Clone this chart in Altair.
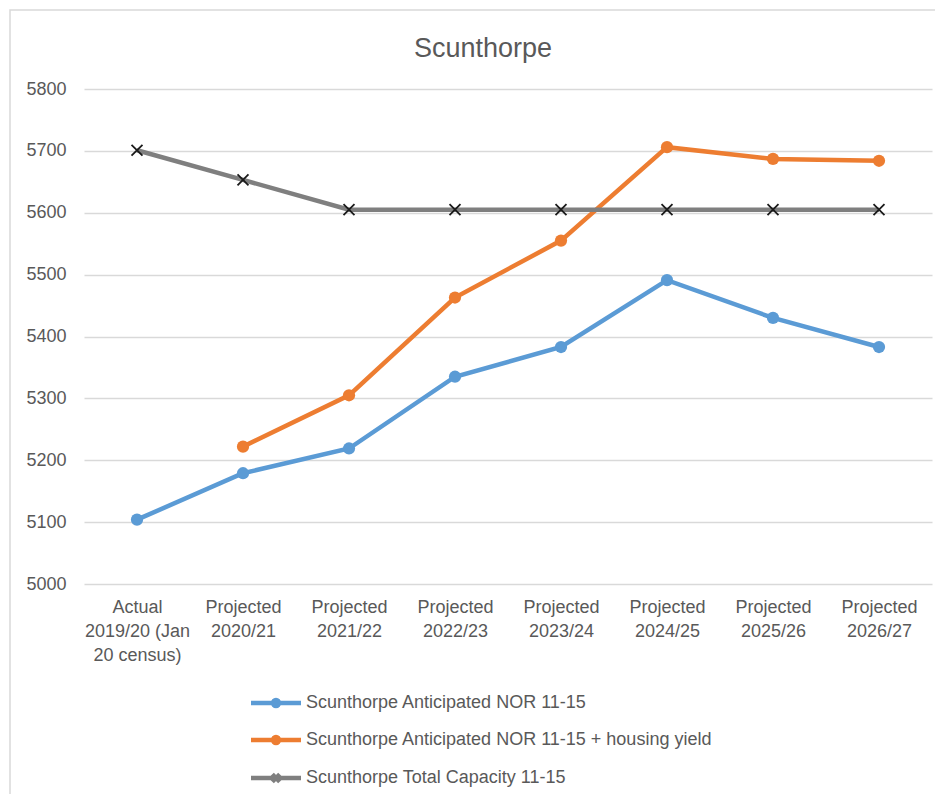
import altair as alt
import pandas as pd

categories = [
    "Actual|2019/20 (Jan|20 census)",
    "Projected|2020/21",
    "Projected|2021/22",
    "Projected|2022/23",
    "Projected|2023/24",
    "Projected|2024/25",
    "Projected|2025/26",
    "Projected|2026/27",
]
series_names = [
    "Scunthorpe Anticipated NOR 11-15",
    "Scunthorpe Anticipated NOR 11-15 + housing yield",
    "Scunthorpe Total Capacity 11-15",
]
nor = [5104, 5179, 5219, 5335, 5383, 5491, 5430, 5383]
nor_housing = [None, 5222, 5305, 5463, 5555, 5706, 5687, 5684]
capacity = [5701, 5653, 5605, 5605, 5605, 5605, 5605, 5605]
colors = ["#5B9BD5", "#ED7D31", "#7F7F7F"]

rows = []
for name, vals in zip(series_names, [nor, nor_housing, capacity]):
    for c, v in zip(categories, vals):
        rows.append({"category": c, "series": name, "value": v})
df = pd.DataFrame(rows)

FONT = "Liberation Sans"
TXT = "#595959"

circle_line = "M-5,0L5,0M0.6,0A0.6,0.6,0,1,1,-0.6,0A0.6,0.6,0,1,1,0.6,0Z"
cross_line = "M-5,0L5,0M-0.75,-0.75L0.75,0.75M-0.75,0.75L0.75,-0.75"
x_shape = "M-1,-1L1,1M-1,1L1,-1"

x_enc = alt.X(
    "category:N",
    sort=categories,
    scale=alt.Scale(type="point", padding=0.5),
    axis=alt.Axis(
        title=None,
        labelExpr="split(datum.label, '|')",
        labelAngle=0,
        labelFontSize=18,
        labelFont=FONT,
        labelColor=TXT,
        labelLineHeight=24,
        labelPadding=14,
        labelBaseline="top",
        domain=False,
        ticks=False,
        grid=False,
    ),
)
y_enc = alt.Y(
    "value:Q",
    scale=alt.Scale(domain=[5000, 5800], nice=False, zero=False),
    axis=alt.Axis(
        title=None,
        values=[5000, 5100, 5200, 5300, 5400, 5500, 5600, 5700, 5800],
        format="d",
        labelFontSize=18,
        labelFont=FONT,
        labelColor=TXT,
        labelPadding=18,
        domain=False,
        ticks=False,
        gridColor="#D9D9D9",
        gridWidth=1.5,
    ),
)

color_scale = alt.Scale(domain=series_names, range=colors)

legend = alt.Legend(
    title=None,
    orient="none",
    legendX=183,
    legendY=605,
    direction="vertical",
    symbolType=alt.ExprRef(
        expr="datum.value === '" + series_names[2] + "' ? '" + cross_line + "' : '" + circle_line + "'"
    ),
    symbolSize=100,
    symbolStrokeWidth=4.5,
    symbolOpacity=1,
    labelFont=FONT,
    labelFontSize=18,
    labelColor=TXT,
    labelOffset=21,
    labelLimit=0,
    rowPadding=13,
    padding=0,
)

base = alt.Chart(df)

lines = base.mark_line(strokeWidth=4.5).encode(
    x=x_enc,
    y=y_enc,
    color=alt.Color("series:N", scale=color_scale, sort=series_names, legend=legend),
)

dots = base.transform_filter(
    alt.datum.series != series_names[2]
).mark_point(filled=True, size=150, opacity=1).encode(
    x=x_enc,
    y=y_enc,
    color=alt.Color("series:N", scale=color_scale, sort=series_names, legend=legend),
)

crosses = base.transform_filter(
    alt.datum.series == series_names[2]
).mark_point(shape=x_shape, filled=False, size=120, color="#1a1a1a", strokeWidth=1.8, opacity=1).encode(
    x=x_enc,
    y=y_enc,
)

frame = alt.Chart(alt.Data(values=[{"a": 1}])).mark_rect(
    fill=None, stroke="#D9D9D9", strokeWidth=1.5
).encode(
    x=alt.value(-74), y=alt.value(-79), x2=alt.value(900), y2=alt.value(760)
)

chart = alt.layer(frame, lines, dots, crosses).properties(
    width=848,
    height=495,
    title=alt.TitleParams(
        "Scunthorpe",
        font=FONT,
        fontSize=27,
        fontWeight="normal",
        color=TXT,
        anchor="middle",
        frame="group",
        baseline="alphabetic",
        dx=-25,
        offset=-75,
    ),
    autosize=alt.AutoSizeParams(type="none"),
    padding={"left": 76, "top": 81, "right": 3, "bottom": 210},
).configure_view(stroke=None)

chart.save("out.html", embed_options={"renderer": "svg", "actions": False})
